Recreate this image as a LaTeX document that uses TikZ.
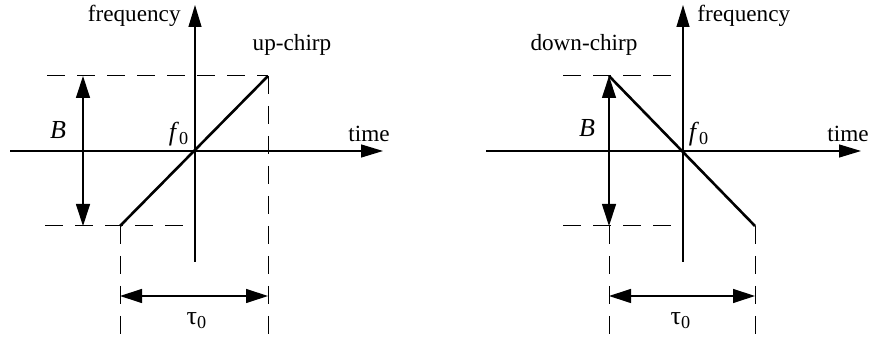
\documentclass[tikz,border=0pt]{standalone}
\usepackage{fontspec}
\setmainfont{Liberation Serif}
\usetikzlibrary{arrows.meta}

\begin{document}
\begin{tikzpicture}[x=0.5pt, y=-0.5pt,
    lbl/.style={font=\fontsize{11.6}{14}\selectfont, inner sep=1pt},
    sym/.style={font=\fontsize{13}{15}\selectfont, inner sep=1pt},
    axis/.style={line width=0.6pt, -{Triangle[length=11pt,width=6.5pt]}},
    guide/.style={line width=0.5pt, dash pattern=on 9pt off 6pt},
    span/.style={line width=0.6pt, {Triangle[length=11pt,width=7pt]}-{Triangle[length=11pt,width=7pt]}},
    chirp/.style={line width=1.3pt}
]
\useasboundingbox (0,0) rectangle (871,340);

% up-chirp
\coordinate (xL0) at (10,151);
\coordinate (xL1) at (383,151);
\coordinate (yL0) at (195,262);
\coordinate (yL1) at (195,5);
\coordinate (hiL) at (268,76);
\coordinate (loL) at (120,226);
\coordinate (gL1) at (47,76);
\coordinate (gL2) at (45,226);
\coordinate (gL3) at (195,226);
\coordinate (vL1) at (120,335);
\coordinate (vL2) at (268,335);
\coordinate (bL0) at (83,76);
\coordinate (bL1) at (83,226);
\coordinate (tL0) at (120,296);
\coordinate (tL1) at (268,296);

\draw[axis] (xL0) -- (xL1);
\draw[axis] (yL0) -- (yL1);
\draw[guide] (gL1) -- (hiL);
\draw[guide] (gL2) -- (gL3);
\draw[guide] (loL) -- (vL1);
\draw[guide] (hiL) -- (vL2);
\draw[chirp] (loL) -- (hiL);
\draw[span] (bL0) -- (bL1);
\draw[span] (tL0) -- (tL1);

\node[lbl, anchor=east] (freqL) at (183,16) {frequency};
\node[lbl] (upL) at (292,45) {up-chirp};
\node[lbl] (timeL) at (369,134) {time};
\node[sym] (bwL) at (58,130) {\textit{B}};
\node[sym] (f0L) at (179,134) {\textit{f}\textsubscript{0}};
\node[sym] (tauL) at (197,321) {τ\textsubscript{0}};

% down-chirp
\coordinate (xR0) at (486,151);
\coordinate (xR1) at (861,151);
\coordinate (yR0) at (683,262);
\coordinate (yR1) at (683,5);
\coordinate (hiR) at (609,76);
\coordinate (loR) at (755,226);
\coordinate (gR1) at (563,76);
\coordinate (gR2) at (683,76);
\coordinate (gR3) at (563,226);
\coordinate (gR4) at (683,226);
\coordinate (vR0) at (609,226);
\coordinate (vR1) at (609,335);
\coordinate (vR2) at (755,335);
\coordinate (bR1) at (609,226);
\coordinate (tR0) at (609,296);
\coordinate (tR1) at (755,296);

\draw[axis] (xR0) -- (xR1);
\draw[axis] (yR0) -- (yR1);
\draw[guide] (gR1) -- (gR2);
\draw[guide] (gR3) -- (gR4);
\draw[guide] (vR0) -- (vR1);
\draw[guide] (loR) -- (vR2);
\draw[chirp] (hiR) -- (loR);
\draw[span] (hiR) -- (bR1);
\draw[span] (tR0) -- (tR1);

\node[lbl, anchor=west] (freqR) at (695,16) {frequency};
\node[lbl] (downR) at (584,45) {down-chirp};
\node[lbl, anchor=west] (timeR) at (825,134) {time};
\node[sym] (bwR) at (587,128) {\textit{B}};
\node[sym] (f0R) at (699,134) {\textit{f}\textsubscript{0}};
\node[sym] (tauR) at (681,321) {τ\textsubscript{0}};
\end{tikzpicture}
\end{document}
